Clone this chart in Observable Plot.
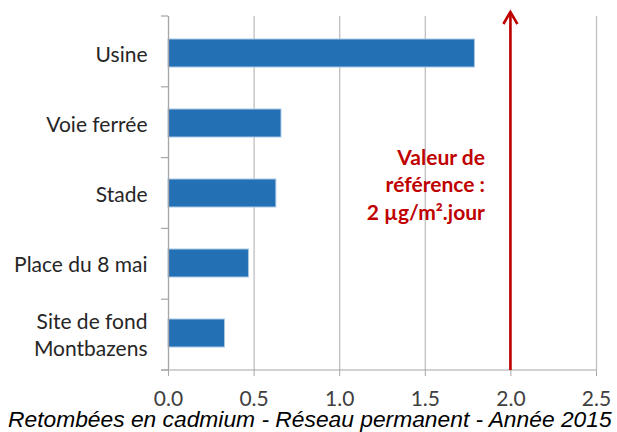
<!DOCTYPE html>
<html><head><meta charset="utf-8">
<script src="https://cdn.jsdelivr.net/npm/d3@7"></script>
<script src="https://cdn.jsdelivr.net/npm/@observablehq/plot@0.6"></script>
<style>
body{margin:0;background:#fff;}
#chart{position:relative;width:617px;height:432px;overflow:hidden;}
#chart svg{display:block;}
.caption{position:absolute;left:8px;top:410px;font-family:"Liberation Sans",Arial,sans-serif;font-style:italic;font-size:22.8px;line-height:19px;white-space:nowrap;color:#000;}
</style></head><body><div id="chart"></div>
<script>
const sites = ["Usine", "Voie ferrée", "Stade", "Place du 8 mai", "Site de fond\nMontbazens"];
const values = [1.79, 0.66, 0.63, 0.47, 0.33];
const xTicks = [0, 0.5, 1, 1.5, 2, 2.5];
const referenceValue = 2;
const referenceLabel = "Valeur de\nréférence :\n2 µg/m².jour";
const captionText = "Retombées en cadmium - Réseau permanent - Année 2015";

const data = sites.map((s, i) => ({site: s, value: values[i]}));

// band-boundary ticks on the y axis and the x axis baseline
const frameLines = (index, scales, vals, dims) => {
  const g = d3.create("svg:g").attr("stroke", "#a6a6a6").attr("stroke-width", 1.2).attr("fill", "none");
  const x0 = scales.x(0), x1 = scales.x(xTicks[xTicks.length - 1]);
  const top = dims.marginTop, bottom = dims.height - dims.marginBottom;
  const step = (bottom - top) / sites.length;
  for (let i = 0; i <= sites.length; i++) {
    const yb = top + i * step;
    g.append("line").attr("x1", x0 - 7).attr("x2", x0).attr("y1", yb).attr("y2", yb);
  }
  g.append("line").attr("x1", x0 - 7).attr("x2", x1).attr("y1", bottom).attr("y2", bottom);
  return g.node();
};

const referenceArrow = (index, scales, vals, dims) => {
  const x = scales.x(referenceValue);
  const y0 = dims.height - dims.marginBottom;
  const yt = dims.marginTop - 4;
  const g = d3.create("svg:g").attr("stroke", "#c00000").attr("stroke-width", 2.6).attr("fill", "none");
  g.append("line").attr("x1", x).attr("x2", x).attr("y1", y0).attr("y2", yt + 1);
  g.append("path").attr("d", `M${x - 7},${yt + 12}L${x},${yt}L${x + 7},${yt + 12}`);
  return g.node();
};

const plot = Plot.plot({
  width: 617,
  height: 432,
  marginLeft: 168,
  marginRight: 21,
  marginTop: 16,
  marginBottom: 62,
  style: {fontFamily: "Lato, sans-serif", fontSize: "21px", color: "#262626", background: "#fff"},
  x: {domain: [0, 2.5], label: null},
  y: {domain: sites, paddingInner: 0.6, paddingOuter: 0.3, label: null},
  marks: [
    Plot.ruleX(xTicks.slice(1), {stroke: "#bfbfbf", strokeWidth: 1.3}),
    Plot.barX(data, {y: "site", x: "value", fill: "#2470b4", stroke: "#a9c8e6", strokeWidth: 1}),
    Plot.ruleX([0], {stroke: "#a6a6a6", strokeWidth: 1.3}),
    frameLines,
    Plot.axisX({ticks: xTicks, tickSize: 6, tickPadding: 15, stroke: "#a6a6a6", tickFormat: d3.format(".1f"), fill: "#404040", label: null}),
    Plot.axisY({tickSize: 0, tickPadding: 21, lineHeight: 1.3, fill: "#262626", label: null}),
    Plot.text([referenceLabel], {x: () => referenceValue, y: () => sites[2], text: d => d, textAnchor: "end", lineAnchor: "middle", dx: -26, dy: -10, fill: "#c00000", fontWeight: "bold", fontSize: 21, lineHeight: 1.3}),
    referenceArrow
  ]
});

const root = document.getElementById("chart");
root.appendChild(plot);
const cap = document.createElement("div");
cap.className = "caption";
cap.textContent = captionText;
root.appendChild(cap);
</script>
</body></html>
